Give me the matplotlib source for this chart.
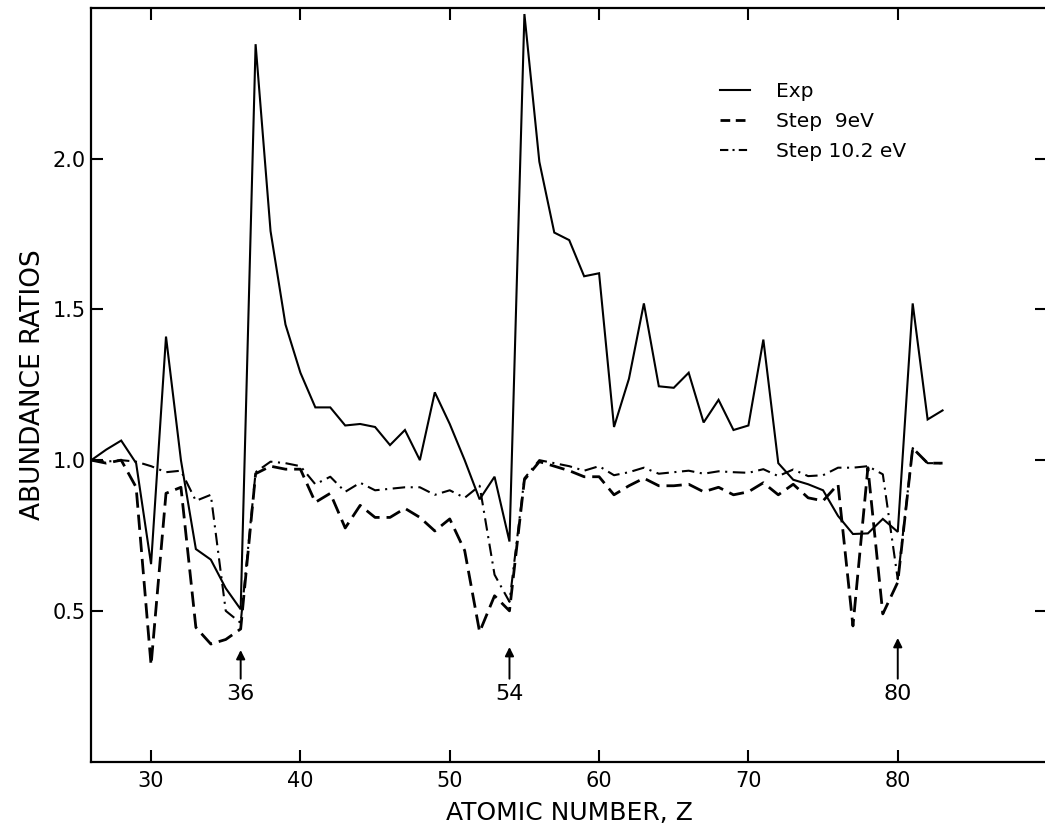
import matplotlib
matplotlib.use("Agg")
import matplotlib.pyplot as plt
from matplotlib.lines import Line2D

plt.rcParams['font.family'] = ['DejaVu Sans']
plt.rcParams['lines.scale_dashes'] = False

z = list(range(26, 84))

exp_vals = [1.00, 1.035, 1.065, 0.99, 0.655, 1.41, 1.00, 0.705, 0.67, 0.575,
            0.505, 2.38, 1.76, 1.45, 1.29, 1.175, 1.175, 1.115, 1.12, 1.11,
            1.05, 1.10, 1.00, 1.225, 1.12, 1.00, 0.87, 0.945, 0.73, 2.48,
            1.99, 1.755, 1.73, 1.61, 1.62, 1.11, 1.27, 1.52, 1.245, 1.24,
            1.29, 1.125, 1.20, 1.10, 1.115, 1.40, 0.99, 0.935, 0.92, 0.90,
            0.815, 0.755, 0.757, 0.805, 0.762, 1.52, 1.135, 1.165]

step9_vals = [1.00, 0.99, 1.00, 0.91, 0.32, 0.89, 0.91, 0.445, 0.39, 0.405,
              0.44, 0.955, 0.98, 0.97, 0.97, 0.86, 0.89, 0.775, 0.85, 0.81,
              0.81, 0.84, 0.81, 0.765, 0.805, 0.70, 0.43, 0.55, 0.50, 0.935,
              0.995, 0.98, 0.965, 0.945, 0.945, 0.885, 0.915, 0.94, 0.915, 0.915,
              0.92, 0.895, 0.91, 0.885, 0.895, 0.925, 0.885, 0.92, 0.875, 0.865,
              0.92, 0.45, 0.975, 0.49, 0.595, 1.04, 0.99, 0.99]

step102_vals = [1.00, 0.995, 1.00, 0.995, 0.98, 0.96, 0.965, 0.865, 0.885, 0.50,
                0.46, 0.96, 0.995, 0.99, 0.98, 0.92, 0.945, 0.895, 0.925, 0.90,
                0.905, 0.91, 0.91, 0.885, 0.90, 0.875, 0.915, 0.62, 0.53, 0.94,
                1.00, 0.99, 0.98, 0.965, 0.98, 0.95, 0.96, 0.975, 0.955, 0.96,
                0.965, 0.955, 0.963, 0.96, 0.958, 0.97, 0.947, 0.969, 0.947, 0.95,
                0.975, 0.975, 0.98, 0.953, 0.605, 1.04, 0.99, 0.99]

x_ticks = [30, 40, 50, 60, 70, 80]
y_ticks = [0.5, 1.0, 1.5, 2.0]
y_tick_labels = ['0.5', '1.0', '1.5', '2.0']
markers_z = [36, 54, 80]
series_labels = ['Exp', 'Step  9eV', 'Step 10.2 eV']

fig = plt.figure(figsize=(10.45, 8.26), dpi=100)
ax = fig.add_axes([0.0874, 0.078, 0.9146, 0.9123])

dashed = (0, (11, 5))
dashdot = (0, (9, 4, 1.5, 4))

ax.plot(z, exp_vals, color='black', lw=1.5, solid_joinstyle='miter')
ax.plot(z, step9_vals, color='black', lw=2.0, linestyle=dashed)
ax.plot(z, step102_vals, color='black', lw=1.5, linestyle=dashdot)

ax.set_xlim(26, 90)
ax.set_ylim(0, 2.5)
ax.set_xticks(x_ticks)
ax.set_xticklabels([str(t) for t in x_ticks])
ax.set_yticks(y_ticks)
ax.set_yticklabels(y_tick_labels)
ax.tick_params(direction='in', length=8.5, width=1.5, labelsize=15,
               top=True, right=True)
ax.tick_params(axis='x', pad=7)
ax.tick_params(axis='y', pad=4)
for s in ax.spines.values():
    s.set_linewidth(1.6)

ax.set_xlabel('ATOMIC NUMBER, Z', fontsize=18, labelpad=7)
ax.set_ylabel('ABUNDANCE RATIOS', fontsize=19, labelpad=5)

tips = [0.37, 0.38, 0.41]
for zz, tip in zip(markers_z, tips):
    ax.annotate('', xy=(zz, tip), xytext=(zz, 0.275),
                arrowprops=dict(arrowstyle='-|>', color='black', lw=1.4,
                                mutation_scale=13, shrinkA=0, shrinkB=0))
    ax.text(zz, 0.225, str(zz), ha='center', va='center', fontsize=16)

handles = [Line2D([], [], color='black', lw=1.5),
           Line2D([], [], color='black', lw=2.0, linestyle=(0, (7, 4))),
           Line2D([], [], color='black', lw=1.5, linestyle=(0, (6, 3, 1.5, 3)))]
ax.legend(handles, series_labels, loc='upper left',
          bbox_to_anchor=(720 / 1045, 1 - 82 / 826), bbox_transform=fig.transFigure,
          frameon=False, fontsize=14.5, handlelength=1.5, handletextpad=1.3,
          labelspacing=0.55, borderpad=0, borderaxespad=0)

fig.savefig('out.png', dpi=100)
